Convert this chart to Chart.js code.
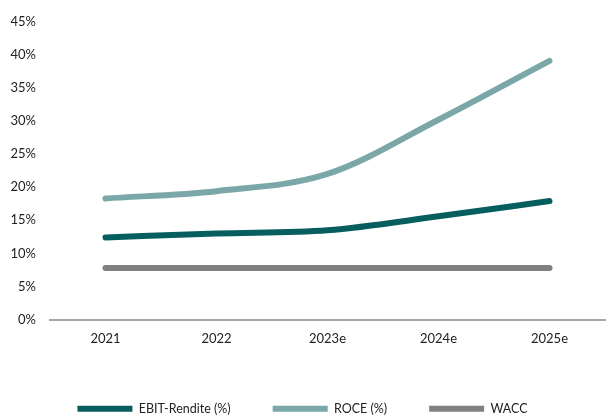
<!DOCTYPE html>
<html>
<head>
<meta charset="utf-8">
<script src="https://cdn.jsdelivr.net/npm/chart.js@4/dist/chart.umd.min.js"></script>
<style>
  html, body { margin: 0; padding: 0; background: #fff; }
  #wrap { width: 613px; height: 419px; }
</style>
</head>
<body>
<div id="wrap"><canvas id="myChart" width="613" height="419"></canvas></div>
<script>
const years = ['2021', '2022', '2023e', '2024e', '2025e'];
const ebit = [12.4, 13.0, 13.5, 15.6, 17.9];
const roce = [18.3, 19.4, 22.0, 30.2, 39.1];
const wacc = [7.8, 7.8, 7.8, 7.8, 7.8];

Chart.defaults.font.family = 'Lato, "Liberation Sans", sans-serif';
Chart.defaults.font.size = 13;
Chart.defaults.color = '#222';

function line(label, data, color) {
    return {
        label: label,
        data: data,
        borderColor: color,
        backgroundColor: color,
        borderWidth: 6,
        borderCapStyle: 'round',
        pointRadius: 0,
        cubicInterpolationMode: 'monotone'
    };
}

var ctx = document.getElementById('myChart').getContext('2d');
var myChart = new Chart(ctx, {
    type: 'line',
    data: {
        labels: years,
        datasets: [
            line('EBIT-Rendite (%)', ebit, '#075e5f'),
            line('ROCE (%)', roce, '#7ba7a9'),
            line('WACC', wacc, '#808080')
        ]
    },
    options: {
        responsive: false,
        animation: false,
        layout: { padding: { top: 17, right: 8, bottom: -6, left: 0 } },
        plugins: {
            legend: {
                position: 'bottom',
                labels: {
                    usePointStyle: true,
                    pointStyle: 'line',
                    pointStyleWidth: 55,
                    padding: 42,
                    color: '#222',
                    font: { size: 12.5 }
                }
            },
            tooltip: { enabled: false }
        },
        scales: {
            x: {
                offset: true,
                grid: { display: false, drawTicks: false },
                border: { display: true, color: '#a6a6a6', width: 2 },
                ticks: { padding: 12 },
                afterFit: (s) => { s.height = 41; }
            },
            y: {
                min: 0,
                max: 45,
                grid: { display: false, drawTicks: false },
                border: { display: false },
                ticks: {
                    stepSize: 5,
                    padding: 14,
                    callback: (v) => v + '%'
                },
                afterFit: (s) => { s.width = 50; }
            }
        }
    }
});
</script>
</body>
</html>
